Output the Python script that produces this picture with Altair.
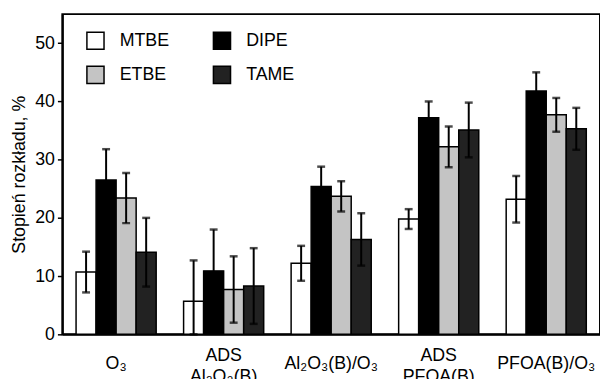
import altair as alt
import pandas as pd

categories = ["O₃", "ADS\nAl₂O₃(B)", "Al₂O₃(B)/O₃", "ADS\nPFOA(B)", "PFOA(B)/O₃"]
series = ["MTBE", "DIPE", "ETBE", "TAME"]
legend_order = ["MTBE", "ETBE", "DIPE", "TAME"]
legend_colors = ["#ffffff", "#c4c4c4", "#000000", "#222222"]

MTBE = [10.7, 5.7, 12.2, 19.8, 23.2]
MTBE_err = [3.5, 7.0, 3.0, 1.7, 4.0]
DIPE = [26.5, 10.9, 25.4, 37.2, 41.8]
DIPE_err = [5.3, 7.1, 3.4, 2.8, 3.2]
ETBE = [23.4, 7.7, 23.7, 32.2, 37.7]
ETBE_err = [4.3, 5.7, 2.6, 3.5, 2.9]
TAME = [14.1, 8.3, 16.3, 35.1, 35.3]
TAME_err = [5.9, 6.5, 4.5, 4.7, 3.6]

values = {"MTBE": MTBE, "DIPE": DIPE, "ETBE": ETBE, "TAME": TAME}
errors = {"MTBE": MTBE_err, "DIPE": DIPE_err, "ETBE": ETBE_err, "TAME": TAME_err}

rows = []
for s in series:
    for c, v, e in zip(categories, values[s], errors[s]):
        rows.append({"cat": c, "series": s, "value": v,
                     "lo": max(0.0, v - e), "hi": v + e})
df = pd.DataFrame(rows)

FONT = "Liberation Sans"
single_line = [c for c in categories if "\n" not in c]
two_line = [c for c in categories if "\n" in c]

x_scale = alt.Scale(paddingInner=0.255, paddingOuter=0.1275)

x_bars = alt.X("cat:N", sort=categories, scale=x_scale,
               axis=alt.Axis(title=None, ticks=False, labelAngle=0, orient="bottom",
                             values=single_line,
                             labelPadding=30, labelBaseline="middle",
                             labelFontSize=18, domainWidth=2))
x_rules = alt.X("cat:N", sort=categories, scale=x_scale,
                axis=alt.Axis(title=None, ticks=False, labelAngle=0, orient="bottom",
                              values=two_line, domain=False,
                              labelPadding=21, labelBaseline="middle",
                              labelExpr="split(datum.label, '\\n')",
                              labelLineHeight=22, labelFontSize=18))
x_plain = alt.X("cat:N", sort=categories, scale=x_scale, axis=None)

xo_enc = alt.XOffset("series:N", sort=series,
                     scale=alt.Scale(paddingInner=0, paddingOuter=0))
y_scale = alt.Scale(domain=[0, 55], nice=False, zero=True)

base = alt.Chart(df)

bars = base.mark_bar(stroke="black", strokeWidth=1.5).encode(
    x=x_bars,
    xOffset=xo_enc,
    y=alt.Y("value:Q", scale=y_scale,
            axis=alt.Axis(title="Stopień rozkładu, %", values=[0, 10, 20, 30, 40, 50],
                          tickSize=5, tickWidth=1.5, domainWidth=2,
                          labelFontSize=18, labelPadding=3,
                          titleFontSize=18, titleFontWeight="normal",
                          titlePadding=6, grid=False)),
    fill=alt.Fill("series:N",
                  scale=alt.Scale(domain=legend_order, range=legend_colors),
                  legend=alt.Legend(title=None, orient="none", legendX=24, legendY=17,
                                    columns=2, symbolType="square", symbolSize=300,
                                    symbolStrokeColor="black", symbolStrokeWidth=1.5,
                                    symbolOpacity=1,
                                    labelFontSize=18, labelFont=FONT, labelOffset=15,
                                    columnPadding=40, rowPadding=10, padding=0)),
)

rules = base.mark_rule(color="black", strokeWidth=2).encode(
    x=x_rules,
    xOffset=xo_enc,
    y=alt.Y("lo:Q", scale=y_scale),
    y2="hi:Q",
)

caps_hi = base.mark_tick(color="black", thickness=2.5, size=8).encode(
    x=x_plain,
    xOffset=xo_enc,
    y=alt.Y("hi:Q", scale=y_scale),
)
caps_lo = base.mark_tick(color="black", thickness=2.5, size=8).encode(
    x=x_plain,
    xOffset=xo_enc,
    y=alt.Y("lo:Q", scale=y_scale),
)

chart = alt.layer(bars, rules, caps_hi, caps_lo).resolve_axis(
    x="independent"
).properties(
    width=544, height=324,
    autosize=alt.AutoSizeParams(type="none"),
    padding={"left": 55, "top": 4, "right": 0, "bottom": 43},
    background="white",
).configure_view(
    stroke="black", strokeWidth=2
).configure_axis(
    labelFont=FONT, titleFont=FONT, labelColor="black", titleColor="black",
    domainColor="black", tickColor="black"
).configure_legend(
    labelColor="black"
)

chart.save("out.html", embed_options={"renderer": "svg", "actions": False})
